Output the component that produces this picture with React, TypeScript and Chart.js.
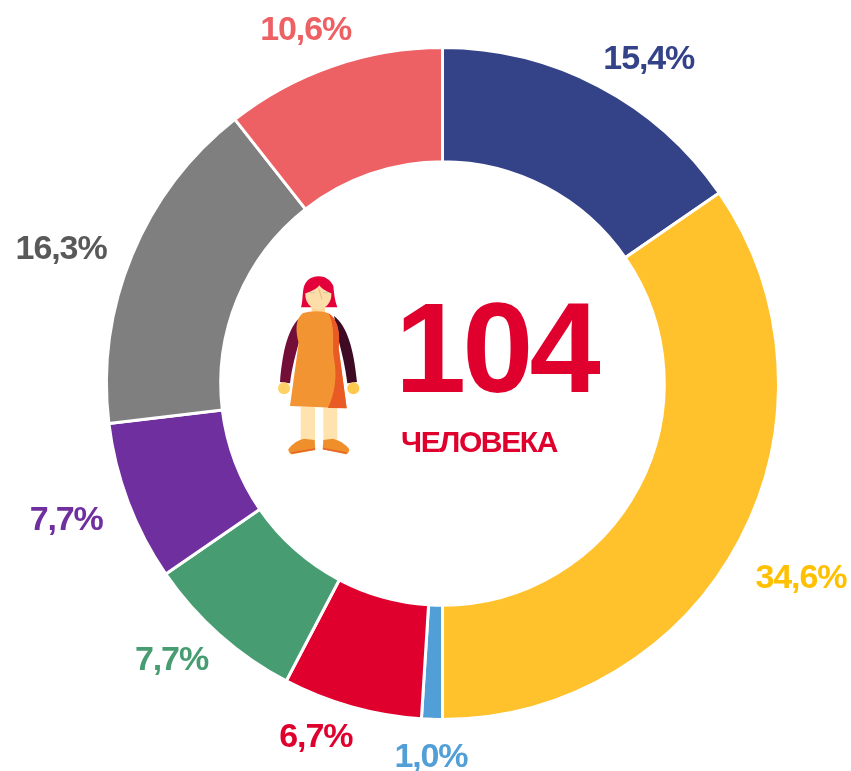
import React, { useEffect, useRef } from "react";
import { Chart, registerables } from "chart.js";

Chart.register(...registerables);

const categories = ["A", "B", "C", "D", "E", "F", "G", "H"];
const shares = [15.4, 34.6, 1.0, 6.7, 7.7, 7.7, 16.3, 10.6];
const sliceColors = ["#344288", "#FFC22D", "#529FD8", "#E0002D", "#479D71", "#6F2F9F", "#7F7F7F", "#ED6063"];
const labelColors = ["#344288", "#FFC000", "#529FD8", "#E0002D", "#479D71", "#6F2F9F", "#595959", "#ED6063"];
const labelTexts = ["15,4%", "34,6%", "1,0%", "6,7%", "7,7%", "7,7%", "16,3%", "10,6%"];
const labelOffsets: [number, number][] = [[50, -26], [61, 39], [-1, 38], [-36, 31], [-48, 26], [-62, 18], [-71, -5], [-27, -35]];
const centerValue = "104";
const centerCaption = "ЧЕЛОВЕКА";

const FONT = '"Liberation Sans", Arial, sans-serif';

const labelsPlugin = {
  id: "sliceLabels",
  afterDatasetsDraw(chart: any) {
    const ctx = chart.ctx;
    const arcs = chart.getDatasetMeta(0).data;
    ctx.save();
    ctx.textBaseline = "middle";
    ctx.textAlign = "center";
    ctx.font = `bold 34px ${FONT}`;
    (ctx as any).letterSpacing = "-1.1px";
    arcs.forEach((arc: any, i: number) => {
      const mid = (arc.startAngle + arc.endAngle) / 2;
      const x = arc.x + Math.cos(mid) * arc.outerRadius + labelOffsets[i][0];
      const y = arc.y + Math.sin(mid) * arc.outerRadius + labelOffsets[i][1];
      ctx.fillStyle = labelColors[i];
      ctx.fillText(labelTexts[i], x, y);
    });
    const cx = arcs[0].x;
    const cy = arcs[0].y;
    ctx.fillStyle = "#E0002D";
    ctx.textAlign = "left";
    ctx.textBaseline = "alphabetic";
    ctx.font = `bold 128px ${FONT}`;
    (ctx as any).letterSpacing = "-4px";
    ctx.fillText(centerValue, cx - 47.5, cy + 8.5);
    ctx.font = `bold 30px ${FONT}`;
    (ctx as any).letterSpacing = "-1.4px";
    ctx.fillText(centerCaption, cx - 41.5, cy + 68.5);
    ctx.restore();
  },
};

function Person() {
  return (
    <svg
      width={350}
      height={210}
      viewBox="0 0 1050 630"
      style={{ position: "absolute", left: 260, top: 260, pointerEvents: "none" }}
    >
      <path d="M123 142 C130 118 126 92 134 74 C150 40 204 40 220 78 C222 100 224 120 232 142 L205 142 L150 142 Z" fill="#E4003A" />
      <rect x={155} y={130} width={40} height={30} fill="#FFD59A" />
      <path d="M136 100 C150 96 172 86 178 76 C186 88 204 96 214 100 C216 126 198 148 175 148 C152 148 134 126 136 100 Z" fill="#FDDDA8" />
      <path d="M150 98 H166 M190 98 H206" stroke="#C9CDB8" strokeWidth={3} />
      <path d="M176 85 L186 118" stroke="#EFA06A" strokeWidth={2} fill="none" />
      <path d="M125 168 C85 200 68 270 60 366 L90 370 C96 320 108 280 120 235 Z" fill="#720E38" />
      <path d="M222 168 C262 198 282 270 291 366 L262 370 C256 320 246 280 234 235 Z" fill="#3F0A24" />
      <circle cx={72} cy={385} r={18} fill="#FFD166" />
      <circle cx={280} cy={385} r={18} fill="#FFC94F" />
      <rect x={122} y={440} width={43} height={105} fill="#FFE3AE" />
      <rect x={190} y={440} width={42} height={105} fill="#FFE3AE" />
      <path d="M128 160 C150 152 190 152 205 160 C228 172 242 215 236 265 L260 445 L90 438 L116 250 C106 210 106 178 128 160 Z" fill="#F39433" />
      <path d="M205 160 C232 175 242 215 236 265 L260 445 L204 444 C225 400 232 350 222 295 C215 260 228 200 205 160 Z" fill="#E95A25" />
      <path d="M85 568 C95 552 118 538 132 536 L164 540 L166 570 L96 583 C90 583 85 575 85 568 Z" fill="#EF8F2B" />
      <path d="M268 568 C258 552 232 538 218 536 L190 540 L188 568 L258 583 C263 583 268 575 268 568 Z" fill="#EF8F2B" />
      <path d="M94 579 L165 567 M259 579 L189 566" stroke="#E5662A" strokeWidth={5} fill="none" />
    </svg>
  );
}

export default function App() {
  const ref = useRef<HTMLCanvasElement>(null);
  useEffect(() => {
    const chart = new Chart(ref.current!, {
      type: "doughnut",
      data: {
        labels: categories,
        datasets: [
          {
            data: shares,
            backgroundColor: sliceColors,
            borderColor: "#FFFFFF",
            borderWidth: 3,
          },
        ],
      },
      options: {
        responsive: false,
        animation: false,
        cutout: "66%",
        layout: { padding: { left: 105, right: 71, top: 46, bottom: 50 } },
        plugins: { legend: { display: false }, tooltip: { enabled: false } },
      },
      plugins: [labelsPlugin],
    });
    return () => chart.destroy();
  }, []);
  return (
    <div style={{ position: "absolute", left: 0, top: 0, width: 851, height: 771, background: "#fff" }}>
      <canvas ref={ref} width={851} height={771} style={{ display: "block" }} />
      <Person />
    </div>
  );
}
